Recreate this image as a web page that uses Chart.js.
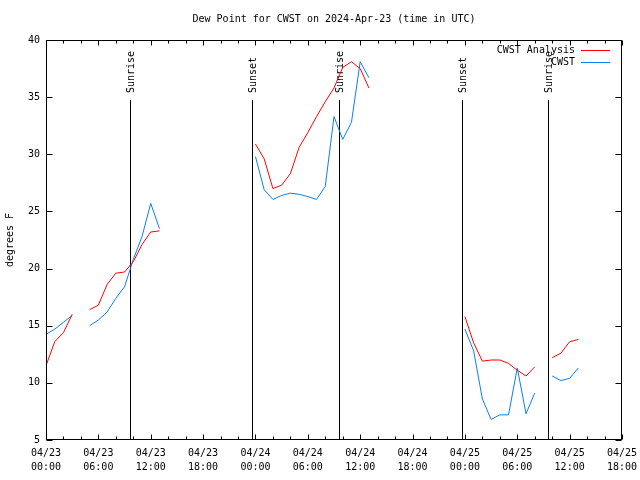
<!DOCTYPE html>
<html>
<head>
<meta charset="utf-8">
<script src="https://cdn.jsdelivr.net/npm/chart.js@4.4.1/dist/chart.umd.min.js"></script>
<style>
  html, body { margin: 0; padding: 0; background: #ffffff; }
  #wrap { width: 640px; height: 480px; }
</style>
</head>
<body>
<div id="wrap"><canvas id="dewChart" width="640" height="480"></canvas></div>
<script>
// hours since 2024-04-23 00:00 UTC
const hours = [
  0, 1, 2, 3, 4, 5, 6, 7, 8, 9, 10, 11, 12, 13, 14, 15, 16, 17, 18, 19, 20,
  21, 22, 23, 24, 25, 26, 27, 28, 29, 30, 31, 32, 33, 34, 35, 36, 37, 38, 39,
  40, 41, 42, 43, 44, 45, 46, 47, 48, 49, 50, 51, 52, 53, 54, 55, 56, 57, 58,
  59, 60, 61
];

// CWST Analysis (red)
const analysis = [
  11.5, 13.6, 14.4, 16.0, null,
  16.4, 16.8, 18.6, 19.6, 19.7, 20.6, 22.1, 23.2, 23.3,
  null, null, null, null, null, null, null, null, null, null,
  30.9, 29.6, 27.0, 27.3, 28.3, 30.6, 31.9, 33.3, 34.6, 35.8, 37.6, 38.1, 37.5, 35.8,
  null, null, null, null, null, null, null, null, null, null,
  15.8, 13.5, 11.9, 12.0, 12.0, 11.7, 11.1, 10.6, 11.4,
  null,
  12.2, 12.6, 13.6, 13.8
];

// CWST observed (blue)
const observed = [
  14.25, 14.7, 15.3, 15.9, null,
  15.0, 15.5, 16.2, 17.4, 18.4, 20.8, 22.8, 25.7, 23.5,
  null, null, null, null, null, null, null, null, null, null,
  29.8, 26.9, 26.05, 26.4, 26.6, 26.5, 26.3, 26.05, 27.2, 33.3, 31.3, 32.8, 38.1, 36.7,
  null, null, null, null, null, null, null, null, null, null,
  14.7, 12.8, 8.6, 6.8, 7.2, 7.2, 11.3, 7.3, 9.1,
  null,
  10.6, 10.2, 10.4, 11.3
];

const eventHours = [9.66, 23.55, 33.6, 47.63, 57.56];
const eventLabels = ['Sunrise', 'Sunset', 'Sunrise', 'Sunset', 'Sunrise'];

const seriesNames = ['CWST Analysis', 'CWST'];
const seriesColors = ['#ff0000', '#0a7ff0'];

const FONT = "10px 'DejaVu Sans Mono', monospace";

function pad2(n) { return (n < 10 ? '0' : '') + n; }

function timeLabel(h) {
  const day = 23 + Math.floor(h / 24);
  return ['04/' + day, pad2(h % 24) + ':00'];
}

// frame, inward ticks, sun events, legend, titles
const gnuplotLook = {
  id: 'gnuplotLook',
  beforeDatasetsDraw(chart) {
    const { ctx, chartArea: a, scales: { x, y } } = chart;
    ctx.save();
    ctx.strokeStyle = '#000';
    ctx.lineWidth = 1;
    ctx.fillStyle = '#000';
    ctx.font = FONT;

    // sunrise / sunset markers
    const topY = y.getPixelForValue(34.75);
    eventHours.forEach((h, i) => {
      const px = Math.round(x.getPixelForValue(h)) + 0.5;
      ctx.beginPath();
      ctx.moveTo(px, a.bottom);
      ctx.lineTo(px, topY);
      ctx.stroke();
      ctx.save();
      ctx.translate(px + 1, topY - 7);
      ctx.rotate(-Math.PI / 2);
      ctx.textAlign = 'left';
      ctx.textBaseline = 'middle';
      ctx.fillText(eventLabels[i], 0, 0);
      ctx.restore();
    });
    ctx.restore();
  },
  afterDraw(chart) {
    const { ctx, chartArea: a, scales: { x, y } } = chart;
    ctx.save();
    ctx.strokeStyle = '#000';
    ctx.lineWidth = 1;
    ctx.fillStyle = '#000';
    ctx.font = FONT;

    const L = Math.round(a.left) + 0.5, R = Math.round(a.right) - 0.5;
    const T = Math.round(a.top) + 0.5, B = Math.round(a.bottom) - 0.5;
    ctx.strokeRect(L, T, R - L, B - T);

    // x ticks every 2h, longer every 6h, top and bottom
    ctx.beginPath();
    for (let h = 0; h <= 66; h += 2) {
      const px = Math.round(x.getPixelForValue(h)) + 0.5;
      const len = h % 6 === 0 ? 5 : 3;
      ctx.moveTo(px, B); ctx.lineTo(px, B - len);
      ctx.moveTo(px, T); ctx.lineTo(px, T + len);
    }
    // y ticks left and right
    for (let v = 5; v <= 40; v += 5) {
      const py = Math.round(y.getPixelForValue(v)) + 0.5;
      ctx.moveTo(L, py); ctx.lineTo(L + 6, py);
      ctx.moveTo(R, py); ctx.lineTo(R - 6, py);
    }
    ctx.stroke();

    // title
    ctx.textAlign = 'center';
    ctx.textBaseline = 'middle';
    ctx.fillText('Dew Point for CWST on 2024-Apr-23 (time in UTC)', (a.left + a.right) / 2, 19);

    // y axis label
    ctx.save();
    ctx.translate(10, (a.top + a.bottom) / 2);
    ctx.rotate(-Math.PI / 2);
    ctx.fillText('degrees F', 0, 0);
    ctx.restore();

    // legend
    seriesNames.forEach((name, i) => {
      const ly = 50 + i * 12;
      ctx.textAlign = 'right';
      ctx.fillText(name, 575, ly);
      ctx.strokeStyle = seriesColors[i];
      ctx.beginPath();
      ctx.moveTo(581, ly + 0.5);
      ctx.lineTo(610, ly + 0.5);
      ctx.stroke();
    });
    ctx.restore();
  }
};

const ctx = document.getElementById('dewChart').getContext('2d');
new Chart(ctx, {
  type: 'line',
  data: {
    datasets: [analysis, observed].map((vals, i) => ({
      label: seriesNames[i],
      data: hours.map((h, j) => ({ x: h, y: vals[j] })),
      borderColor: seriesColors[i],
      backgroundColor: seriesColors[i],
      borderWidth: 1,
      pointRadius: 0,
      tension: 0,
      spanGaps: false
    }))
  },
  options: {
    responsive: false,
    animation: false,
    devicePixelRatio: 1,
    layout: { padding: { top: 40, right: 18, left: 0, bottom: 0 } },
    plugins: {
      legend: { display: false },
      tooltip: { enabled: false }
    },
    scales: {
      x: {
        type: 'linear',
        min: 0,
        max: 66,
        grid: { display: false, drawTicks: false },
        border: { display: false },
        afterFit: (s) => { s.height = 40; s.paddingLeft = 0; s.paddingRight = 0; },
        ticks: {
          stepSize: 6,
          autoSkip: false,
          maxRotation: 0,
          padding: 6,
          color: '#000',
          font: { family: "'DejaVu Sans Mono', monospace", size: 10, lineHeight: 1.4 },
          callback: (v) => timeLabel(v)
        }
      },
      y: {
        min: 5,
        max: 40,
        grid: { display: false, drawTicks: false },
        border: { display: false },
        afterFit: (s) => { s.width = 46; s.paddingTop = 0; s.paddingBottom = 0; },
        ticks: {
          stepSize: 5,
          padding: 6,
          color: '#000',
          font: { family: "'DejaVu Sans Mono', monospace", size: 10 }
        }
      }
    }
  },
  plugins: [gnuplotLook]
});
</script>
</body>
</html>
